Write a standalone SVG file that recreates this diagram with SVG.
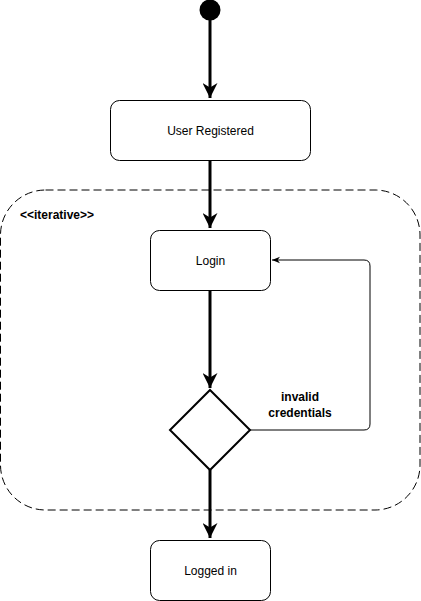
<svg xmlns="http://www.w3.org/2000/svg" width="421" height="601" viewBox="0 0 421 601">
<style>
.node{fill:#fff;stroke:#000;stroke-width:1}
.lbl{font-family:"Liberation Sans",Arial,sans-serif;font-size:12px;fill:#000;text-anchor:middle}
.bold{font-weight:bold}
.thick{fill:none;stroke:#000;stroke-width:3}
.thin{fill:none;stroke:#000;stroke-width:1}
</style>
<defs>
<marker id="ah" viewBox="0 0 10 10" refX="10" refY="5" markerWidth="5" markerHeight="5" orient="auto" markerUnits="strokeWidth">
<path d="M0,0 L10,5 L0,10 L3,5 Z" fill="#000"/>
</marker>
<marker id="ahs" viewBox="0 0 10 10" refX="10" refY="5" markerWidth="8" markerHeight="8" orient="auto" markerUnits="strokeWidth">
<path d="M0,1 L10,5 L0,9 L3,5 Z" fill="#000"/>
</marker>
</defs>
<g id="container">
<rect x="0.5" y="190" width="419.5" height="320" rx="45" ry="45" fill="none" stroke="#000" stroke-width="1" stroke-dasharray="8 4"/>
<text x="20" y="219" class="lbl bold" style="text-anchor:start">&lt;&lt;iterative&gt;&gt;</text>
</g>
<g id="connectors">
<path class="thick" d="M210,20 V98" marker-end="url(#ah)"/>
<path class="thick" d="M210,160 V228" marker-end="url(#ah)"/>
<path class="thick" d="M210,290 V388" marker-end="url(#ah)"/>
<path class="thick" d="M210,470 V538" marker-end="url(#ah)"/>
<path class="thin" d="M250,430 H364 Q370,430 370,424 V266 Q370,260 364,260 H272" marker-end="url(#ahs)"/>
<text class="lbl bold" x="300" y="401">invalid</text>
<text class="lbl bold" x="300" y="417">credentials</text>
</g>
<g id="start"><circle cx="210" cy="10" r="10.5" fill="#000"/></g>
<g id="user-registered">
<rect class="node" x="110.5" y="100.5" width="200" height="60" rx="9"/>
<text class="lbl" x="210.5" y="134.5">User Registered</text>
</g>
<g id="login">
<rect class="node" x="150.5" y="230.5" width="120" height="60" rx="9"/>
<text class="lbl" x="210.5" y="264.5">Login</text>
</g>
<g id="decision">
<path d="M210,390 L250,430 L210,470 L170,430 Z" fill="#fff" stroke="#000" stroke-width="2"/>
</g>
<g id="logged-in">
<rect class="node" x="150.5" y="540.5" width="120" height="60" rx="9"/>
<text class="lbl" x="210.5" y="574.5">Logged in</text>
</g>
</svg>
